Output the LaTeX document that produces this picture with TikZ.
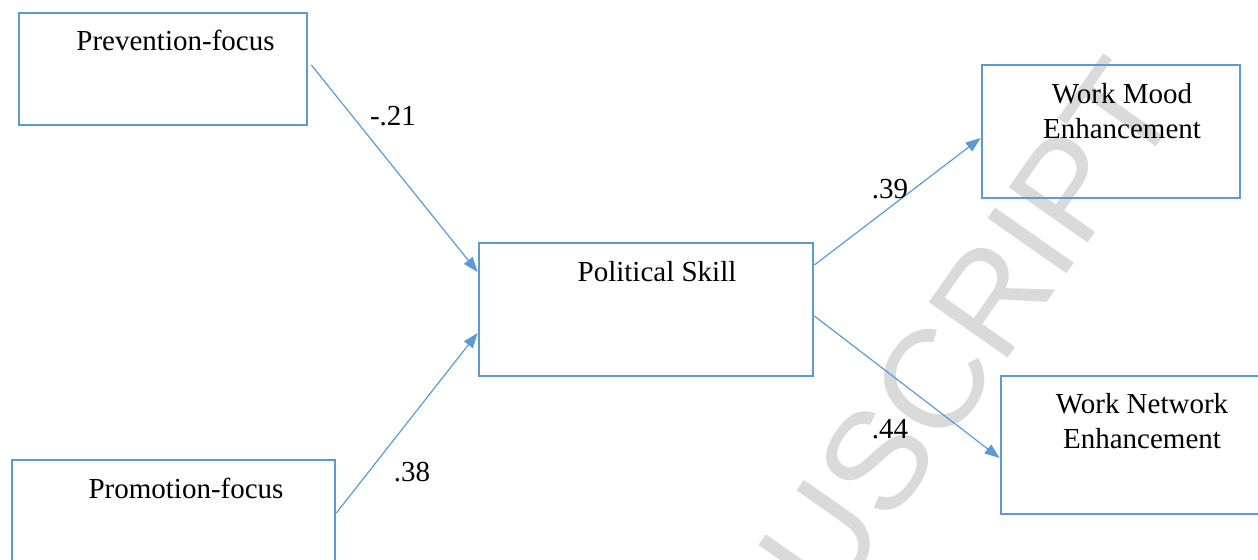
\documentclass[tikz,border=0pt]{standalone}
\usepackage{fontspec}
\setmainfont{Liberation Serif}
\newfontfamily\wmfont{Liberation Sans}
\usetikzlibrary{positioning,arrows.meta}
\definecolor{edge}{HTML}{5B9BD5}
\definecolor{wmark}{HTML}{DADADA}
\tikzset{
  box/.style={draw=edge, line width=1.35pt, inner sep=0pt},
  txt/.style={font=\fontsize{14.5}{17.5}\selectfont, align=center, inner sep=0pt, anchor=north},
  coef/.style={font=\fontsize{14.5}{17.5}\selectfont, inner sep=0pt},
  wm/.style={font=\wmfont\fontsize{70}{72}\selectfont, text=wmark, inner sep=0pt},
  flow/.style={-{Triangle[length=7.5pt, width=5.5pt]}, draw=edge, line width=0.6pt},
}

\begin{document}
\begin{tikzpicture}[x=0.5pt, y=-0.5pt]
    \useasboundingbox (0,0) rectangle (1258,559);
    % watermark
    \begin{scope}
      \clip (0,0) rectangle (1258,559);
      \node[wm, anchor=east, rotate=55] (wmk) at (1145,78) {MANUSCRIPT};
    \end{scope}
    % boxes
    \node[box, minimum width=144pt, minimum height=56pt] (prev) at (163,69) {};
    \node[box, minimum width=161.5pt, minimum height=60pt] (prom) at (173.5,520) {};
    \node[box, minimum width=167pt, minimum height=66.5pt] (pol) at (646,309.5) {};
    \node[box, minimum width=129pt, minimum height=66.5pt] (mood) at (1111,131.5) {};
    \node[box, minimum width=137pt, minimum height=69pt] (netw) at (1138,445) {};
    % box texts
    \node[txt] (prevtxt) at (175.5,30) {Prevention-focus};
    \node[txt] (promtxt) at (186,478) {Promotion-focus};
    \node[txt] (poltxt) at (657,261) {Political Skill};
    \node[txt] (moodtxt) at (1122,83) {Work Mood\\Enhancement};
    \node[txt] (netwtxt) at (1142,393) {Work Network\\Enhancement};
    % paths
    \draw[flow] ([xshift=1.5pt, yshift=2pt]prev.east) -- ([yshift=18.75pt]pol.west);
    \draw[flow] ([yshift=3.5pt]prom.east) -- ([yshift=-11.75pt]pol.west);
    \draw[flow] ([yshift=22.25pt]pol.east) -- ([yshift=-3.25pt]mood.west);
    \draw[flow] ([yshift=-3.25pt]pol.east) -- ([yshift=-6.5pt]netw.west);
    % coefficients
    \node[coef] (c21) at (393,116) {-.21};
    \node[coef] (c38) at (412,472) {.38};
    \node[coef] (c39) at (890,189) {.39};
    \node[coef] (c44) at (890,429) {.44};
\end{tikzpicture}
\end{document}
